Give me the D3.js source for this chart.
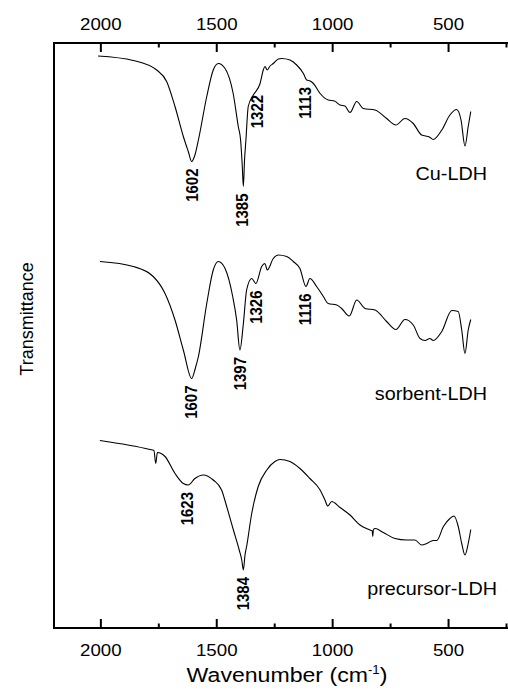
<!DOCTYPE html>
<html>
<head>
<meta charset="utf-8">
<script src="https://cdn.jsdelivr.net/npm/d3@7"></script>
<style>
  body { margin: 0; background: #fff; }
  svg text { font-family: "Liberation Sans", Arial, sans-serif; fill: #000; }
</style>
</head>
<body>
<div id="chart"></div>
<script>
// wavenumbers (cm-1) and transmittance (a.u., offset per trace)
const wnCu = [2010, 1858, 1757, 1714, 1678, 1642, 1620, 1606, 1592, 1577, 1541, 1513, 1491, 1462, 1427, 1405, 1395, 1388, 1383, 1378, 1372, 1362, 1340, 1311, 1297, 1290, 1280, 1268, 1254, 1232, 1218, 1182, 1153, 1124, 1110, 1095, 1081, 1052, 1017, 990, 966, 945, 923, 894, 866, 815, 765, 725, 686, 650, 614, 580, 564, 527, 492, 463, 444, 427, 413, 402]
const tCu = [114.4, 113.5, 111.6, 109.3, 104.3, 98.3, 95.2, 93.3, 94.6, 97.6, 106.3, 111.6, 112.9, 111.9, 106.9, 100.3, 97.6, 92.6, 88.3, 93.6, 97.6, 104.3, 106.6, 108.9, 111.6, 112.3, 111.6, 112.4, 112.9, 113.8, 113.9, 113.6, 112.6, 110.9, 109.6, 109.4, 108.9, 106.9, 105.6, 105.4, 104.6, 104.4, 103.1, 105.3, 103.9, 103.6, 101.9, 100.6, 101.9, 100.9, 98.6, 98.2, 97.7, 99.6, 102.6, 103.7, 101.6, 96.4, 100.3, 103.3]

const wnSorb = [2002, 1858, 1772, 1721, 1678, 1642, 1606, 1590, 1577, 1541, 1513, 1491, 1462, 1429, 1412, 1398, 1383, 1369, 1347, 1329, 1304, 1290, 1280, 1254, 1232, 1196, 1168, 1139, 1113, 1096, 1067, 1038, 1017, 980, 959, 926, 894, 858, 815, 765, 725, 686, 650, 621, 599, 578, 564, 527, 484, 456, 441, 427, 413, 402]
const tSorb = [73.3, 72.3, 70.3, 66.9, 61.6, 55.6, 49.9, 52.0, 54.3, 64.9, 71.6, 73.3, 71.9, 66.3, 61.6, 55.6, 60.9, 67.6, 69.9, 68.9, 72.3, 72.9, 71.6, 73.9, 74.6, 74.3, 73.3, 71.9, 68.3, 69.9, 68.3, 66.3, 64.9, 64.6, 63.9, 62.4, 65.6, 63.9, 63.6, 61.3, 59.7, 61.7, 60.6, 57.9, 57.5, 57.9, 57.5, 59.3, 63.5, 63.3, 59.6, 54.9, 59.6, 61.7]

const wnPrec = [2002, 1786, 1769, 1761, 1754, 1721, 1678, 1642, 1621, 1592, 1556, 1513, 1477, 1455, 1426, 1401, 1390, 1383, 1376, 1369, 1347, 1319, 1282, 1247, 1225, 1182, 1139, 1096, 1052, 1031, 1019, 1002, 966, 923, 880, 837, 827, 825, 822, 815, 779, 729, 679, 643, 614, 592, 564, 549, 520, 492, 474, 456, 441, 427, 413, 402]
const tPrec = [37.5, 35.7, 35.5, 32.9, 35.1, 34.3, 30.9, 28.9, 28.6, 29.9, 30.6, 29.6, 27.6, 24.3, 19.6, 15.6, 13.6, 11.6, 14.6, 16.3, 22.9, 28.3, 31.6, 33.3, 33.7, 33.3, 31.9, 29.9, 27.6, 25.6, 24.4, 25.3, 24.1, 22.6, 20.6, 19.6, 19.4, 18.3, 19.7, 19.9, 19.1, 17.9, 17.6, 17.6, 16.6, 16.9, 17.5, 17.5, 20.3, 21.9, 22.4, 20.3, 16.9, 14.6, 16.9, 19.7]

const traceNames = ["Cu-LDH", "sorbent-LDH", "precursor-LDH"]
const peaksCu = [1602, 1385, 1322, 1113]
const peaksSorb = [1607, 1397, 1326, 1116]
const peaksPrec = [1623, 1384]

const majorTicks = [2000, 1500, 1000, 500]
const minorTicks = [1750, 1250, 750, 250]

const width = 508, height = 693
const mLeft = 54, mRight = 506, mTop = 43, mBottom = 628
const sx = 1.1 // the original text is a bit wide

const svg = d3.select("#chart").append("svg")
  .attr("width", width)
  .attr("height", height)

const x = d3.scaleLinear().domain([2200, 250]).range([mLeft, mRight])
const y = d3.scaleLinear().domain([0, 117]).range([mBottom, mTop])

const traces = [
  { name: traceNames[0], wn: wnCu, t: tCu, peaks: peaksCu, lx: 487, ly: 180 },
  { name: traceNames[1], wn: wnSorb, t: tSorb, peaks: peaksSorb, lx: 487, ly: 400 },
  { name: traceNames[2], wn: wnPrec, t: tPrec, peaks: peaksPrec, lx: 497, ly: 595 }
]

// value of a trace at a given wavenumber (linear between read points)
function valueAt(tr, w) {
  for (let i = 0; i < tr.wn.length - 1; i++) {
    if (w <= tr.wn[i] && w >= tr.wn[i + 1]) {
      let f = (tr.wn[i] - w) / (tr.wn[i] - tr.wn[i + 1])
      return tr.t[i] + f * (tr.t[i + 1] - tr.t[i])
    }
  }
  return tr.t[0]
}
// lowest value close to the labelled band
function bandLow(tr, w) {
  let v = valueAt(tr, w)
  tr.wn.forEach((n, i) => { if (Math.abs(n - w) <= 6) v = Math.min(v, tr.t[i]) })
  return v
}

let line = d3.line()
  .x(d => x(d[0]))
  .y(d => y(d[1]))
  .curve(d3.curveMonotoneX)

traces.forEach(function (tr) {
  svg.append("path")
    .datum(tr.wn.map((w, i) => [w, tr.t[i]]))
    .attr("d", line)
    .attr("fill", "none")
    .attr("stroke", "#000")
    .attr("stroke-width", 1.1)

  svg.append("text")
    .attr("transform", `translate(${tr.lx},${tr.ly}) scale(${sx},1)`)
    .attr("text-anchor", "end")
    .style("font-size", "18px")
    .text(tr.name)

  tr.peaks.forEach(function (p) {
    let ty = y(bandLow(tr, p)) + 7
    svg.append("text")
      .attr("transform", `translate(${x(p) + 5.5},${ty}) scale(1.15,1) rotate(-90)`)
      .attr("text-anchor", "end")
      .style("font-size", "15px")
      .style("font-weight", "bold")
      .text(p)
  })
})

// ###########
// frame + axes
// ###########
function styleAxis(g) {
  g.select(".domain").remove()
  g.selectAll(".tick line").attr("stroke", "#000").attr("stroke-width", 2)
  g.selectAll(".tick text")
    .attr("transform", `scale(${sx},1)`)
    .style("font-size", "17px")
}

svg.append("g")
  .attr("transform", `translate(0,${mBottom})`)
  .call(d3.axisBottom(x).tickValues(majorTicks).tickFormat(d3.format("d")).tickSize(-9).tickPadding(16).tickSizeOuter(0))
  .call(styleAxis)
svg.append("g")
  .attr("transform", `translate(0,${mBottom})`)
  .call(d3.axisBottom(x).tickValues(minorTicks).tickSize(-4.5).tickFormat("").tickSizeOuter(0))
  .call(styleAxis)
svg.append("g")
  .attr("transform", `translate(0,${mTop})`)
  .call(d3.axisTop(x).tickValues(majorTicks).tickFormat(d3.format("d")).tickSize(-9).tickPadding(13).tickSizeOuter(0))
  .call(styleAxis)
svg.append("g")
  .attr("transform", `translate(0,${mTop})`)
  .call(d3.axisTop(x).tickValues(minorTicks).tickSize(-4.5).tickFormat("").tickSizeOuter(0))
  .call(styleAxis)

svg.append("line")
  .attr("x1", mLeft).attr("x2", width + 2)
  .attr("y1", mTop).attr("y2", mTop)
  .attr("stroke", "#000").attr("stroke-width", 2)
svg.append("line")
  .attr("x1", mLeft).attr("x2", width + 2)
  .attr("y1", mBottom).attr("y2", mBottom)
  .attr("stroke", "#000").attr("stroke-width", 2)
svg.append("line")
  .attr("x1", mLeft).attr("x2", mLeft)
  .attr("y1", mTop - 1).attr("y2", mBottom + 1)
  .attr("stroke", "#000").attr("stroke-width", 2)

// axis titles
let xt = svg.append("text")
  .attr("transform", `translate(287,682) scale(${sx},1)`)
  .attr("text-anchor", "middle")
  .style("font-size", "21px")
xt.append("tspan").text("Wavenumber (cm")
xt.append("tspan").attr("dy", -8).style("font-size", "12px").text("-1")
xt.append("tspan").attr("dy", 8).text(")")

svg.append("text")
  .attr("transform", "translate(33,319) rotate(-90)")
  .attr("text-anchor", "middle")
  .style("font-size", "18px")
  .text("Transmittance")
</script>
</body>
</html>
